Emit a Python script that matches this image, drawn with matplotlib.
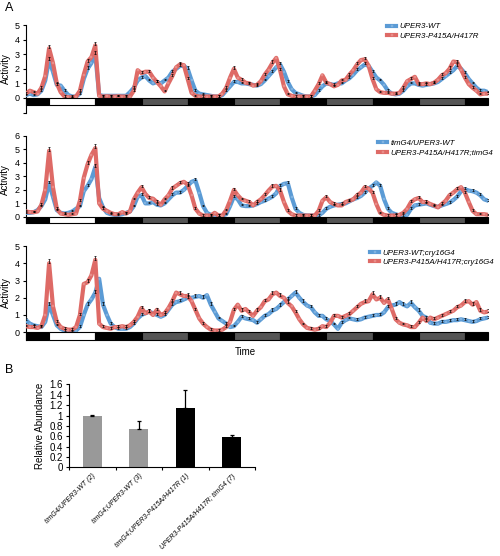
import numpy as np
import matplotlib
matplotlib.use("Agg")
import matplotlib.pyplot as plt

plt.rcParams['font.family'] = ['Liberation Sans', 'DejaVu Sans']

# hourly activity, t = 0..120 h
p1_wt = [0.2, 0.3, 0.2, 0.25, 0.5, 1.2, 2.6, 1.8, 0.9, 0.85,
         0.5, 0.2, 0.1, 0.1, 0.3, 1.3, 2.0, 2.4, 3.0, 0.2,
         0.15, 0.15, 0.15, 0.15, 0.15, 0.15, 0.15, 0.4, 0.7, 1.2,
         1.4, 1.5, 1.2, 1.0, 1.1, 1.0, 1.2, 1.4, 1.8, 2.0,
         2.2, 2.2, 2.0, 1.2, 0.5, 0.3, 0.25, 0.2, 0.15, 0.1,
         0.1, 0.2, 0.5, 0.8, 1.1, 1.1, 1.0, 1.0, 0.95, 0.9,
         0.85, 0.95, 1.2, 1.5, 1.8, 2.1, 2.3, 1.8, 1.1, 0.6,
         0.35, 0.25, 0.15, 0.1, 0.1, 0.2, 0.5, 0.8, 1.0, 0.95,
         0.9, 1.0, 1.0, 1.2, 1.35, 1.6, 1.9, 2.1, 2.3, 2.2,
         1.8, 1.4, 1.2, 0.9, 0.5, 0.3, 0.25, 0.3, 0.5, 0.8,
         1.0, 1.0, 0.9, 0.85, 0.9, 0.95, 1.0, 1.1, 1.3, 1.5,
         1.7, 1.9, 2.2, 2.0, 1.7, 1.3, 1.0, 0.7, 0.5, 0.5,
         0.4]
p1_mut = [0.3, 0.5, 0.4, 0.3, 0.7, 1.5, 3.4, 2.4, 1.0, 0.4,
          0.1, 0.05, 0.05, 0.1, 0.5, 1.6, 2.5, 2.8, 3.6, 0.15,
          0.1, 0.12, 0.1, 0.1, 0.12, 0.1, 0.1, 0.1, 0.5, 1.9,
          1.7, 1.8, 1.8, 1.4, 1.1, 0.8, 0.45, 1.0, 1.5, 2.1,
          2.3, 2.25, 1.3, 0.35, 0.15, 0.1, 0.1, 0.1, 0.1, 0.1,
          0.1, 0.3, 0.7, 1.4, 2.0, 1.4, 1.25, 1.05, 1.0, 0.85,
          0.9, 1.15, 1.6, 1.95, 2.4, 2.75, 1.9, 0.8, 0.25, 0.15,
          0.1, 0.1, 0.1, 0.1, 0.1, 0.5, 0.95, 1.55, 1.05, 0.95,
          0.8, 0.9, 1.2, 1.25, 1.6, 1.9, 2.3, 2.6, 2.65, 2.2,
          1.3, 0.6, 0.4, 0.35, 0.35, 0.3, 0.3, 0.35, 0.7, 1.15,
          1.3, 1.45, 0.95, 0.95, 1.0, 0.95, 1.05, 1.25, 1.55, 1.7,
          2.0, 2.5, 2.45, 1.95, 1.4, 0.95, 0.7, 0.5, 0.25, 0.3,
          0.3]

p2_wt = [0.3, 0.3, 0.35, 0.5, 0.8, 1.3, 2.5, 1.5, 0.5, 0.3,
         0.25, 0.3, 0.4, 0.6, 0.8, 1.9, 2.3, 2.8, 3.7, 1.4,
         0.7, 0.3, 0.2, 0.15, 0.15, 0.2, 0.3, 0.4, 0.8, 1.5,
         1.6, 1.0, 1.0, 1.1, 0.9, 0.85, 1.0, 1.3, 1.6, 1.8,
         1.8, 2.0, 2.3, 2.6, 2.7, 1.8, 0.8, 0.3, 0.15, 0.1,
         0.1, 0.1, 0.2, 0.8, 1.5, 1.3, 0.85, 0.8, 0.8, 0.85,
         0.95, 1.1, 1.2, 1.35, 1.5, 1.75, 2.3, 2.45, 2.5, 1.45,
         0.6, 0.3, 0.15, 0.1, 0.1, 0.1, 0.1, 0.3, 0.6, 0.75,
         0.85, 0.9, 0.95, 1.0, 1.15, 1.3, 1.4, 1.55, 1.8, 2.1,
         2.3, 2.55, 2.3, 1.3, 0.6, 0.3, 0.2, 0.1, 0.1, 0.15,
         0.6, 0.85, 0.9, 0.95, 1.0, 0.9, 0.8, 0.75, 0.85, 0.95,
         1.05, 1.25, 1.5, 1.9, 2.05, 1.95, 1.9, 1.8, 1.6, 1.3,
         1.2]
p2_mut = [0.4, 0.35, 0.35, 0.4, 0.9, 2.0, 4.9, 2.2, 0.6, 0.25,
          0.2, 0.15, 0.2, 0.25, 1.2, 2.9, 3.9, 4.6, 5.1, 1.0,
          0.6, 0.45, 0.3, 0.2, 0.2, 0.35, 0.25, 0.4, 1.3, 1.8,
          2.2, 1.7, 1.4, 1.35, 1.1, 0.9, 1.3, 1.6, 2.1, 2.3,
          2.5, 2.6, 2.4, 1.6, 0.6, 0.25, 0.1, 0.1, 0.1, 0.3,
          0.1, 0.1, 0.5, 1.2, 2.0, 1.6, 1.3, 1.2, 1.1, 0.85,
          1.1, 1.3, 1.6, 1.95, 2.25, 2.3, 1.95, 1.1, 0.45, 0.2,
          0.1, 0.1, 0.1, 0.1, 0.1, 0.1, 0.45, 1.2, 1.45, 1.1,
          0.95, 0.85, 0.85, 1.1, 1.2, 1.3, 1.6, 1.8, 2.2, 2.1,
          1.8, 0.95, 0.3, 0.15, 0.1, 0.1, 0.1, 0.15, 0.3, 0.6,
          1.1, 1.3, 1.4, 1.1, 1.1, 0.95, 0.85, 0.7, 0.95, 1.2,
          1.6, 1.8, 2.05, 2.2, 1.8, 1.1, 0.45, 0.2, 0.2, 0.2,
          0.15]

p3_wt = [0.7, 0.5, 0.4, 0.35, 0.3, 0.6, 1.6, 1.0, 0.4, 0.2,
         0.1, 0.05, 0.05, 0.1, 0.3, 1.0, 1.6, 1.9, 2.3, 3.1,
         1.6, 1.0, 0.5, 0.3, 0.2, 0.2, 0.2, 0.3, 0.5, 0.8,
         1.0, 1.1, 1.2, 1.1, 1.0, 0.9, 1.0, 1.3, 1.6, 1.75,
         1.8, 1.9, 2.0, 2.0, 2.05, 2.1, 2.0, 2.15, 1.6, 1.2,
         0.8, 0.65, 0.5, 0.3, 0.35, 0.6, 0.9, 0.8, 0.75, 0.7,
         0.55, 0.75, 0.95, 1.05, 1.25, 1.35, 1.55, 1.75, 1.9, 2.1,
         2.3, 2.0, 1.75, 1.55, 1.45, 1.15, 0.95, 0.95, 0.75, 0.65,
         0.45, 0.2, 0.55, 0.7, 0.8, 0.75, 0.7, 0.75, 0.85, 0.9,
         0.95, 1.0, 1.0, 1.15, 1.45, 1.55, 1.6, 1.75, 1.6, 1.5,
         1.7, 1.45, 1.25, 0.95, 0.85, 0.55, 0.5, 0.5, 0.6, 0.6,
         0.65, 0.7, 0.7, 0.75, 0.7, 0.65, 0.6, 0.65, 0.75, 0.8,
         0.85]
p3_mut = [0.35, 0.3, 0.3, 0.25, 0.35, 1.0, 4.0, 1.5, 0.6, 0.3,
          0.2, 0.15, 0.15, 0.3, 1.0, 2.8, 2.9, 3.3, 4.2, 0.5,
          0.3, 0.25, 0.2, 0.3, 0.3, 0.35, 0.3, 0.4, 0.6, 0.9,
          1.4, 1.1, 1.2, 1.0, 1.3, 1.0, 1.1, 1.4, 1.8, 2.3,
          2.2, 2.1, 2.1, 1.8, 1.3, 0.8, 0.5, 0.3, 0.15, 0.1,
          0.1, 0.15, 0.3, 0.6, 1.3, 1.6, 1.25, 1.35, 1.15, 0.95,
          1.25, 1.45, 1.8, 1.9, 2.2, 2.3, 2.1, 2.0, 1.7, 1.5,
          1.15, 0.75, 0.45, 0.25, 0.2, 0.15, 0.2, 0.35, 0.3, 0.55,
          0.95, 0.95, 0.85, 0.95, 1.05, 1.25, 1.45, 1.65, 1.75, 1.8,
          2.2, 1.9, 2.0, 1.7, 1.9, 1.35, 0.75, 0.55, 0.45, 0.4,
          0.3, 0.3, 0.55, 0.85, 0.65, 0.85, 0.75, 0.85, 0.95, 1.05,
          1.15, 1.25, 1.45, 1.55, 1.75, 1.8, 1.6, 1.75, 1.25, 1.15,
          1.2]

# light schedule: D = dark, L = light, S = subjective day (DD)
ld_phases = ['D', 'L', 'D', 'S', 'D', 'S', 'D', 'S', 'D', 'S', 'D']
ld_hours = [6, 12, 12, 12, 12, 12, 12, 12, 12, 12, 6]
ld_colors = {'D': 'black', 'L': 'white', 'S': '#555555'}

labels1 = ['UPER3-WT', 'UPER3-P415A/H417R']
labels2 = ['timG4/UPER3-WT', 'UPER3-P415A/H417R;timG4']
labels3 = ['UPER3-WT;cry16G4', 'UPER3-P415A/H417R;cry16G4']

# panel B
genotypes = ['timG4/UPER3-WT (2)', 'timG4;UPER3-WT (3)',
             'timG4;UPER3-P415A/H417R (1)', 'UPER3-P415A/H417R; timG4 (7)']
abundance = [1.0, 0.74, 1.15, 0.58]
abundance_err = [0.015, 0.16, 0.34, 0.05]
bar_colors = ['#999999', '#999999', 'black', 'black']

blue = '#5B9BD5'
red = '#DE6A66'
blue_mk = '#7FB2E0'
red_mk = '#E88C88'


def draw_panel(ax, wt, mut, labels, ylo, yhi, bar_depth, legend_xy):
    t = np.arange(len(wt))
    for y, c, mc, lab in [(wt, blue, blue_mk, labels[0]), (mut, red, red_mk, labels[1])]:
        ax.plot(t, y, color=c, lw=3.0, marker='s', ms=1.8,
                mec=mc, mfc=mc, mew=0.3, label=lab, zorder=3)
    for y in (wt, mut):
        y = np.array(y)
        ax.errorbar(t[::2], y[::2], yerr=[np.zeros(len(y[::2])), 0.08 + 0.04 * y[::2]],
                    fmt='none', ecolor='black', elinewidth=0.5, capsize=0.8,
                    capthick=0.5, zorder=4)
    start = 0
    for ph, h in zip(ld_phases, ld_hours):
        ax.add_patch(plt.Rectangle((start, -bar_depth), h, bar_depth,
                                   facecolor=ld_colors[ph], edgecolor='black',
                                   lw=0.8, zorder=5, clip_on=False))
        start += h
    ax.set_xlim(0, sum(ld_hours))
    ax.set_ylim(ylo, yhi)
    ax.set_yticks(range(0, int(yhi) + 1))
    ax.tick_params(axis='y', labelsize=6.5, length=2.5, width=0.8, pad=2)
    ax.set_xticks([])
    for s in ['top', 'right', 'bottom']:
        ax.spines[s].set_visible(False)
    ax.spines['left'].set_linewidth(0.8)
    ax.set_ylabel('Activity', fontsize=7, labelpad=3)
    ax.legend(loc='upper left', bbox_to_anchor=legend_xy,
              bbox_transform=fig.transFigure, frameon=False,
              prop={'style': 'italic', 'size': 5.7}, handlelength=1.2,
              handletextpad=0.4, labelspacing=0.2, borderpad=0)


fig = plt.figure(figsize=(5, 5.56), dpi=100)

ax1 = fig.add_axes([0.052, 0.7975, 0.924, 0.1575])
draw_panel(ax1, p1_wt, p1_mut, labels1, -1, 5, 0.45, (0.766, 0.966))
ax1.set_yticks(range(-1, 6))
ax1.set_yticklabels([''] + [str(i) for i in range(6)])

ax2 = fig.add_axes([0.052, 0.599, 0.924, 0.1565])
draw_panel(ax2, p2_wt, p2_mut, labels2, -0.45, 6, 0.45, (0.748, 0.756))

ax3 = fig.add_axes([0.052, 0.3885, 0.924, 0.169])
draw_panel(ax3, p3_wt, p3_mut, labels3, -0.45, 5, 0.45, (0.732, 0.559))

fig.text(0.49, 0.367, 'Time', fontsize=7, ha='center', va='center')
fig.text(0.01, 0.985, 'A', fontsize=9, ha='left', va='center')
fig.text(0.01, 0.335, 'B', fontsize=9, ha='left', va='center')

axb = fig.add_axes([0.138, 0.1595, 0.372, 0.149])
x = np.arange(len(genotypes))
axb.bar(x, abundance, width=0.41, color=bar_colors, zorder=2)
axb.errorbar(x, abundance, yerr=[np.zeros(len(x)), abundance_err], fmt='none',
             ecolor='black', elinewidth=0.9, capsize=1.5, capthick=0.9, zorder=3)
axb.set_xlim(-0.5, len(x) - 0.5)
axb.set_ylim(0, 1.6)
axb.set_yticks(np.arange(0, 1.61, 0.2))
axb.set_yticklabels(['0', '0.2', '0.4', '0.6', '0.8', '1', '1.2', '1.4', '1.6'])
axb.set_xticks(np.arange(-0.5, len(x), 1.0))
axb.set_xticklabels([])
axb.tick_params(axis='x', length=2.5, width=0.8, direction='out')
axb.tick_params(axis='y', labelsize=7, length=2.5, width=0.8, pad=2)
for s in ['top', 'right']:
    axb.spines[s].set_visible(False)
axb.spines['left'].set_linewidth(0.8)
axb.spines['bottom'].set_linewidth(0.8)
axb.set_ylabel('Relative Abundance', fontsize=7, labelpad=3)
for xi, g in zip(x, genotypes):
    axb.text(xi, -0.1, g, rotation=45, ha='right', va='top', fontsize=5,
             style='italic', rotation_mode='anchor', transform=axb.transData)

fig.savefig('out.png', dpi=100)
